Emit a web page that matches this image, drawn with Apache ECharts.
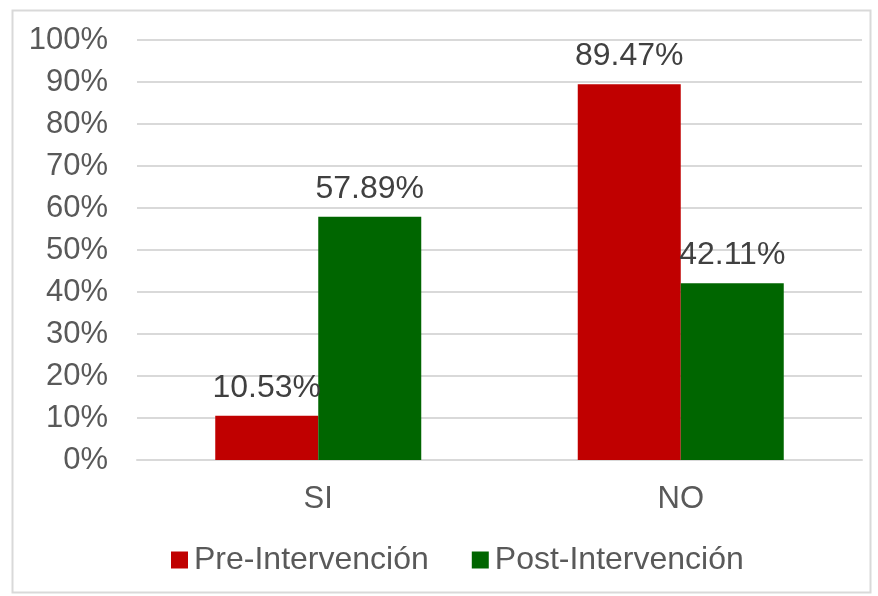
<!DOCTYPE html>
<html lang="es">
<head>
    <meta charset="UTF-8">
    <title>Pre / Post Intervención</title>
    <style>
        html, body { margin: 0; padding: 0; background: #fff; }
    </style>
</head>
<body>
    <div id="chart-box" style="height:596px;width:878px"></div>
<script src="https://cdn.jsdelivr.net/npm/echarts@6/dist/echarts.min.js"></script>
<script>
var categories = ['SI', 'NO'];
var preValues = [10.53, 89.47];
var postValues = [57.89, 42.11];
var seriesNames = ['Pre-Intervención', 'Post-Intervención'];

var font = 'Liberation Sans, Arial, sans-serif';

var labelStyle = {
    show: true,
    position: 'top',
    distance: 12,
    color: '#404040',
    fontSize: 32,
    fontFamily: font,
    formatter: function (p) { return p.value.toFixed(2) + '%'; }
};

var option = {
    backgroundColor: '#ffffff',
    animation: false,
    graphic: [{
        type: 'rect',
        left: 10, top: 8,
        shape: { width: 858, height: 582 },
        style: { fill: 'none', stroke: '#d9d9d9', lineWidth: 2 },
        silent: true
    }],
    grid: { left: 137, right: 16, top: 40, bottom: 136 },
    legend: {
        bottom: 15,
        left: 166,
        itemWidth: 17,
        itemHeight: 17,
        itemGap: 43,
        icon: 'rect',
        textStyle: { color: '#595959', fontSize: 32, fontFamily: font, padding: [0, 0, 0, 1] },
        data: seriesNames
    },
    xAxis: {
        type: 'category',
        data: categories,
        axisLine: { lineStyle: { color: '#d9d9d9', width: 2 } },
        axisTick: { show: false },
        axisLabel: { color: '#595959', fontSize: 31, fontFamily: font, margin: 24 }
    },
    yAxis: {
        type: 'value',
        min: 0,
        max: 100,
        interval: 10,
        axisLine: { show: false },
        axisTick: { show: false },
        splitLine: { lineStyle: { color: '#d9d9d9', width: 2 } },
        axisLabel: {
            color: '#595959', fontSize: 31, fontFamily: font, margin: 29,
            formatter: '{value}%'
        }
    },
    series: [
        {
            name: seriesNames[0],
            type: 'bar',
            data: preValues,
            barWidth: 103,
            barGap: '0%',
            itemStyle: { color: '#c00000' },
            label: labelStyle
        },
        {
            name: seriesNames[1],
            type: 'bar',
            data: postValues,
            barWidth: 103,
            itemStyle: { color: '#006600' },
            label: labelStyle
        }
    ]
};

var chart = echarts.init(document.getElementById('chart-box'));
chart.setOption(option);
</script>
</body>
</html>
